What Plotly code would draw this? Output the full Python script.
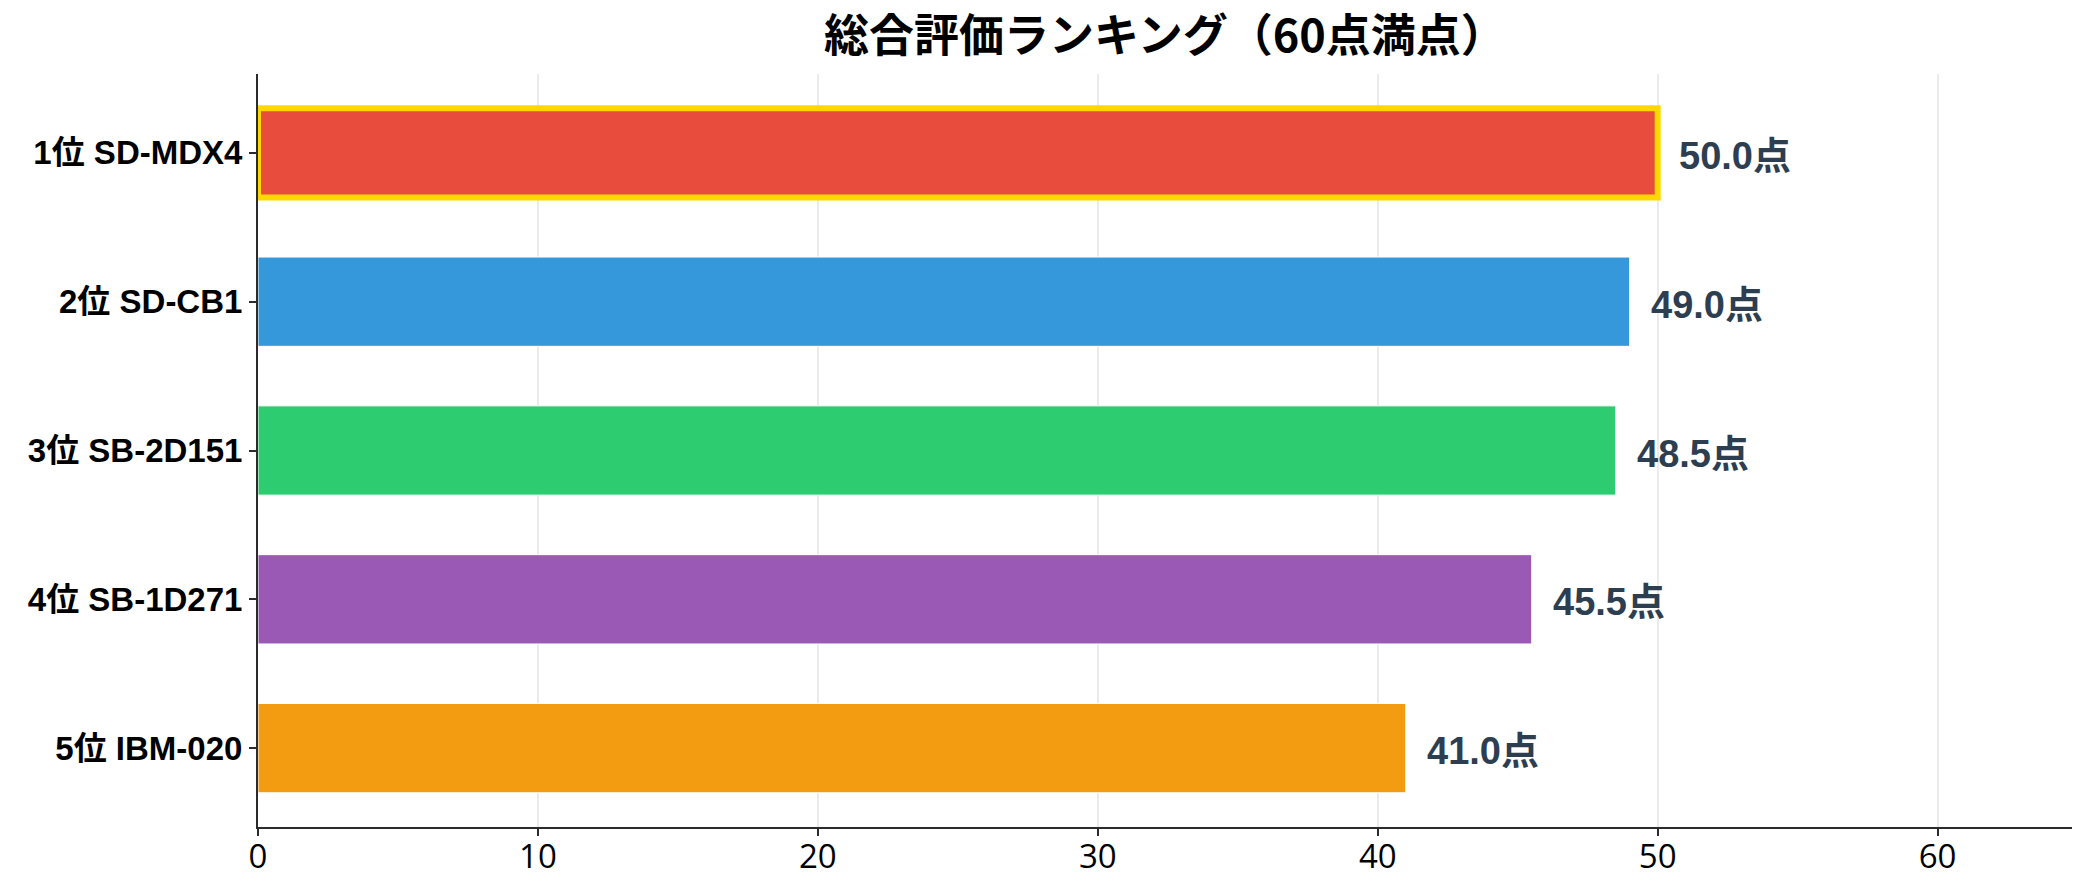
import plotly.graph_objects as go

products = ["1位 SD-MDX4", "2位 SD-CB1", "3位 SB-2D151", "4位 SB-1D271", "5位 IBM-020"]
scores = [50.0, 49.0, 48.5, 45.5, 41.0]
colors = ["#E74C3C", "#3498DB", "#2ECC71", "#9B59B6", "#F39C12"]
edge_colors = ["#FFD700", "white", "white", "white", "white"]
edge_widths = [6, 1, 1, 1, 1]
x_ticks = [0, 10, 20, 30, 40, 50, 60]
title_text = "総合評価ランキング（60点満点）"

LATIN_CJK = "Liberation Sans, Noto Sans CJK JP, sans-serif"

fig = go.Figure()
fig.add_trace(go.Bar(
    y=list(range(len(products))),
    x=scores,
    orientation="h",
    width=0.6,
    marker=dict(color=colors, line=dict(color=edge_colors, width=edge_widths)),
    hoverinfo="skip",
))

for i, s in enumerate(scores):
    fig.add_annotation(
        x=s + 0.7, y=i, xref="x", yref="y",
        text=f"<b>{s:.1f}点</b>",
        showarrow=False, xanchor="left", yanchor="middle", yshift=-3,
        font=dict(family=LATIN_CJK, size=38, color="#2C3E50"),
    )

fig.update_layout(
    width=2085, height=884,
    margin=dict(l=258, r=13, t=74, b=57),
    paper_bgcolor="white", plot_bgcolor="white",
    showlegend=False,
    title=dict(
        text=f"<b>{title_text}</b>",
        x=0.5, xref="paper", xanchor="center",
        y=1 - 36 / 884, yref="container", yanchor="middle",
        font=dict(family="Noto Sans CJK JP, sans-serif", size=45, color="black"),
    ),
    xaxis=dict(
        range=[0, 64.8],
        automargin=False,
        tickvals=x_ticks,
        ticktext=[str(t) for t in x_ticks],
        showgrid=True, gridcolor="#ebebeb", gridwidth=1.5,
        zeroline=False,
        showline=True, linecolor="#2b2b2b", linewidth=2,
        ticks="outside", ticklen=7, tickwidth=2, tickcolor="#2b2b2b",
        tickfont=dict(family="Open Sans, sans-serif", size=33, color="black"),
        ticklabelstandoff=-8,
    ),
    yaxis=dict(
        range=[4.53, -0.53],
        automargin=False,
        tickvals=list(range(len(products))),
        ticktext=[f"<b>{p}</b>" for p in products],
        showgrid=False, zeroline=False,
        showline=True, linecolor="#2b2b2b", linewidth=2,
        ticks="outside", ticklen=7, tickwidth=2, tickcolor="#2b2b2b",
        tickfont=dict(family=LATIN_CJK, size=33, color="black"),
        ticklabelstandoff=0,
    ),
)

fig.write_html("out.html")
